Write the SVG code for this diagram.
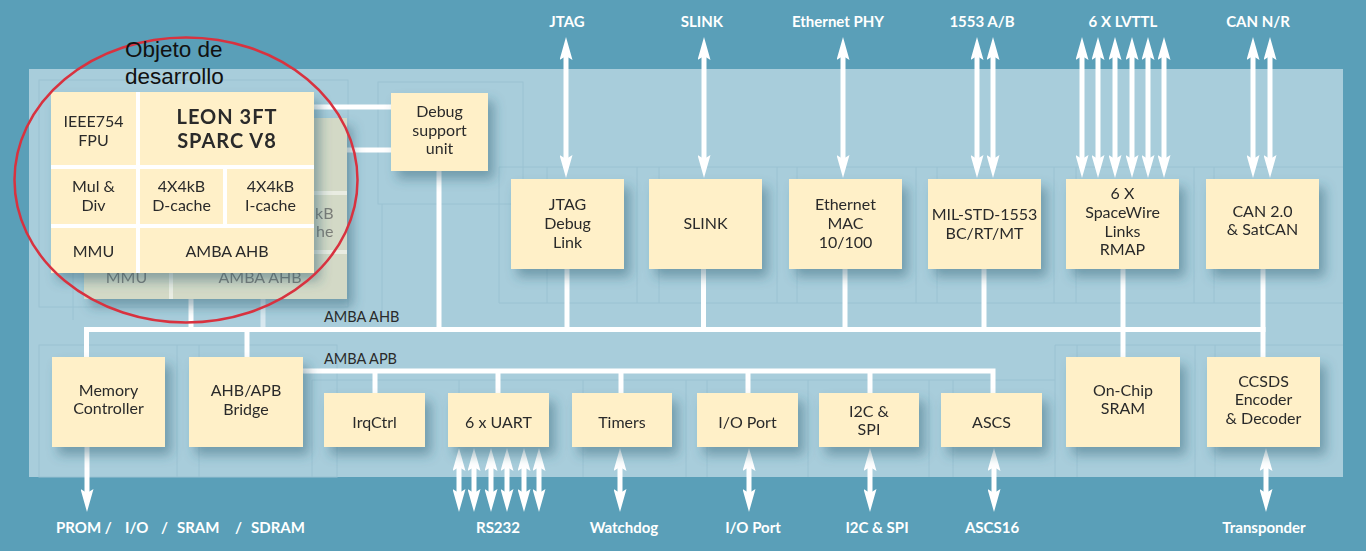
<svg xmlns="http://www.w3.org/2000/svg" width="1366" height="551" viewBox="0 0 1366 551">
<defs>
<style>
.box{fill:#fff0c8;}
.bk{fill:#d3d9c6;}
.t{font-family:Lato,"Open Sans",sans-serif;font-size:16px;fill:#2a2a2a;text-anchor:middle;}
.tb{font-family:Lato,"Open Sans",sans-serif;font-size:20px;letter-spacing:1px;font-weight:bold;fill:#2a2a2a;text-anchor:middle;}
.tg{font-family:Lato,"Open Sans",sans-serif;font-size:16px;fill:#7b7d78;text-anchor:middle;}
.lbl{font-family:Lato,"Open Sans",sans-serif;font-size:15px;font-weight:bold;fill:#ffffff;text-anchor:middle;}
.bus{font-family:Lato,"Open Sans",sans-serif;font-size:14.5px;fill:#2a2a2a;}
.w{stroke:#ffffff;stroke-width:5;fill:none;}
.a2{stroke:#ffffff;stroke-width:5;fill:none;marker-start:url(#ah);marker-end:url(#ah);}
.a1{stroke:#ffffff;stroke-width:5;fill:none;marker-end:url(#ah);}
.g{stroke:#9ac2d2;stroke-width:1;fill:none;}
</style>
<marker id="ah" viewBox="0 0 23 13" refX="4" refY="6.5" markerWidth="23" markerHeight="13" markerUnits="userSpaceOnUse" orient="auto-start-reverse">
<path d="M0,0 L23,6.5 L0,13 L4,6.5 z" fill="#ffffff"/>
</marker>
<filter id="sh" x="-20%" y="-20%" width="150%" height="160%">
<feDropShadow dx="6" dy="8" stdDeviation="6" flood-color="#2d5e72" flood-opacity="0.45"/>
</filter>
</defs>

<rect x="0" y="0" width="1366" height="551" fill="#5a9fb8"/>
<rect x="29" y="69" width="1314" height="408" fill="#a8cddb"/>

<g id="texture">
<rect class="g" x="39" y="80" width="309" height="227"/>
<line class="g" x1="73" y1="273" x2="73" y2="320"/>
<rect class="g" x="378" y="82" width="145" height="122"/>
<line class="g" x1="382" y1="204" x2="382" y2="320"/>
<line class="g" x1="499" y1="167" x2="1343" y2="167"/>
<line class="g" x1="499" y1="167" x2="499" y2="303"/>
<line class="g" x1="499" y1="303" x2="1343" y2="303"/>
<line class="g" x1="547" y1="167" x2="547" y2="303"/>
<line class="g" x1="637" y1="167" x2="637" y2="303"/>
<line class="g" x1="659" y1="167" x2="659" y2="303"/>
<line class="g" x1="777" y1="167" x2="777" y2="303"/>
<line class="g" x1="797" y1="167" x2="797" y2="303"/>
<line class="g" x1="916" y1="167" x2="916" y2="303"/>
<line class="g" x1="937" y1="167" x2="937" y2="303"/>
<line class="g" x1="1054" y1="167" x2="1054" y2="303"/>
<line class="g" x1="1076" y1="167" x2="1076" y2="303"/>
<line class="g" x1="1194" y1="167" x2="1194" y2="303"/>
<line class="g" x1="1214" y1="167" x2="1214" y2="303"/>
<rect class="g" x="39" y="345" width="298" height="132"/>
<line class="g" x1="177" y1="345" x2="177" y2="477"/>
<line class="g" x1="199" y1="345" x2="199" y2="477"/>
<line class="g" x1="312" y1="380" x2="1055" y2="380"/>
<line class="g" x1="312" y1="380" x2="312" y2="477"/>
<line class="g" x1="459" y1="380" x2="459" y2="477"/>
<line class="g" x1="583" y1="380" x2="583" y2="477"/>
<line class="g" x1="686" y1="380" x2="686" y2="477"/>
<line class="g" x1="707" y1="380" x2="707" y2="477"/>
<line class="g" x1="808" y1="380" x2="808" y2="477"/>
<line class="g" x1="929" y1="380" x2="929" y2="477"/>
<line class="g" x1="953" y1="380" x2="953" y2="477"/>
<line class="g" x1="1055" y1="345" x2="1343" y2="345"/>
<line class="g" x1="1055" y1="345" x2="1055" y2="477"/>
<line class="g" x1="1077" y1="345" x2="1077" y2="477"/>
<line class="g" x1="1195" y1="345" x2="1195" y2="477"/>
<line class="g" x1="1215" y1="345" x2="1215" y2="477"/>
</g>

<g id="connectors">
<line class="w" x1="314" y1="107" x2="392" y2="107"/>
<line class="w" x1="347" y1="150" x2="392" y2="150"/>
<line class="w" x1="439" y1="170" x2="439" y2="330"/>
<line class="w" x1="191" y1="272" x2="191" y2="330"/>
<line class="w" x1="263" y1="298" x2="263" y2="330" stroke-opacity="0.55"/>
<line class="w" x1="84" y1="329.5" x2="1265.5" y2="329.5"/>
<line class="w" x1="86.5" y1="327" x2="86.5" y2="358"/>
<line class="w" x1="247" y1="327" x2="247" y2="358"/>
<line class="w" x1="567" y1="268" x2="567" y2="330"/>
<line class="w" x1="703.5" y1="268" x2="703.5" y2="330"/>
<line class="w" x1="845" y1="268" x2="845" y2="330"/>
<line class="w" x1="984" y1="268" x2="984" y2="330"/>
<line class="w" x1="1123" y1="268" x2="1123" y2="358"/>
<line class="w" x1="1263" y1="268" x2="1263" y2="358"/>
<polyline class="w" points="302,371 993,371 993,394"/>
<line class="w" x1="375" y1="371" x2="375" y2="394"/>
<line class="w" x1="498" y1="371" x2="498" y2="394"/>
<line class="w" x1="621" y1="371" x2="621" y2="394"/>
<line class="w" x1="748" y1="371" x2="748" y2="394"/>
<line class="w" x1="870" y1="371" x2="870" y2="394"/>
<line class="a2" x1="566" y1="56" x2="566" y2="159"/>
<line class="a2" x1="704" y1="56" x2="704" y2="159"/>
<line class="a2" x1="843" y1="56" x2="843" y2="159"/>
<line class="a2" x1="977" y1="56" x2="977" y2="159"/>
<line class="a2" x1="993" y1="56" x2="993" y2="159"/>
<line class="a2" x1="1082" y1="56" x2="1082" y2="159"/>
<line class="a2" x1="1098" y1="56" x2="1098" y2="159"/>
<line class="a2" x1="1115" y1="56" x2="1115" y2="159"/>
<line class="a2" x1="1132" y1="56" x2="1132" y2="159"/>
<line class="a2" x1="1148" y1="56" x2="1148" y2="159"/>
<line class="a2" x1="1164" y1="56" x2="1164" y2="159"/>
<line class="a2" x1="1253" y1="56" x2="1253" y2="159"/>
<line class="a2" x1="1270" y1="56" x2="1270" y2="159"/>
<line class="a1" x1="87" y1="446" x2="87" y2="493"/>
<line class="a2" x1="459" y1="467" x2="459" y2="493"/>
<line class="a2" x1="474" y1="467" x2="474" y2="493"/>
<line class="a2" x1="491" y1="467" x2="491" y2="493"/>
<line class="a2" x1="507" y1="467" x2="507" y2="493"/>
<line class="a2" x1="524" y1="467" x2="524" y2="493"/>
<line class="a2" x1="539" y1="467" x2="539" y2="493"/>
<line class="a2" x1="620" y1="467" x2="620" y2="493"/>
<line class="a2" x1="749" y1="467" x2="749" y2="493"/>
<line class="a2" x1="870" y1="467" x2="870" y2="493"/>
<line class="a2" x1="994" y1="467" x2="994" y2="493"/>
<line class="a2" x1="1266" y1="467" x2="1266" y2="493"/>
</g>

<text class="bus" x="324" y="322">AMBA AHB</text>
<text class="bus" x="324" y="364">AMBA APB</text>

<g id="leon-back" filter="url(#sh)">
<rect x="84" y="118" width="263" height="181" fill="#e9ece2"/>
<rect class="bk" x="84" y="118" width="85" height="73"/>
<rect class="bk" x="173" y="118" width="174" height="73"/>
<rect class="bk" x="84" y="195" width="85" height="55"/>
<rect class="bk" x="173" y="195" width="83" height="55"/>
<rect class="bk" x="260" y="195" width="87" height="55"/>
<rect class="bk" x="84" y="254" width="85" height="45"/>
<rect class="bk" x="173" y="254" width="174" height="45"/>
<text class="tg" x="315" y="219" style="text-anchor:start">kB</text>
<text class="tg" x="316" y="237" style="text-anchor:start">he</text>
<text class="tg" x="126.5" y="283">MMU</text>
<text class="tg" x="260" y="283">AMBA AHB</text>
</g>

<g id="leon" filter="url(#sh)">
<rect x="51" y="92" width="263" height="181" fill="#ffffff"/>
<rect class="box" x="51" y="92" width="85" height="73"/>
<rect class="box" x="140" y="92" width="174" height="73"/>
<rect class="box" x="51" y="169" width="85" height="55"/>
<rect class="box" x="140" y="169" width="83" height="55"/>
<rect class="box" x="227" y="169" width="87" height="55"/>
<rect class="box" x="51" y="228" width="85" height="45"/>
<rect class="box" x="140" y="228" width="174" height="45"/>
<text class="t" x="93.5" y="127">IEEE754</text>
<text class="t" x="93.5" y="146">FPU</text>
<text class="tb" x="227" y="124">LEON 3FT</text>
<text class="tb" x="227" y="148">SPARC V8</text>
<text class="t" x="93.5" y="192">Mul &amp;</text>
<text class="t" x="93.5" y="211">Div</text>
<text class="t" x="181.5" y="192">4X4kB</text>
<text class="t" x="181.5" y="211">D-cache</text>
<text class="t" x="270.5" y="192">4X4kB</text>
<text class="t" x="270.5" y="211">I-cache</text>
<text class="t" x="93.5" y="257">MMU</text>
<text class="t" x="227" y="257">AMBA AHB</text>
</g>

<g id="debug" filter="url(#sh)"><rect class="box" x="391" y="93" width="97" height="78"/>
<text class="t" x="439.5" y="117">Debug</text><text class="t" x="439.5" y="136">support</text><text class="t" x="439.5" y="154">unit</text></g>

<g id="jtag" filter="url(#sh)"><rect class="box" x="511" y="179" width="113" height="90"/>
<text class="t" x="567.5" y="210">JTAG</text><text class="t" x="567.5" y="229">Debug</text><text class="t" x="567.5" y="248">Link</text></g>

<g id="slink" filter="url(#sh)"><rect class="box" x="649" y="179" width="113" height="90"/>
<text class="t" x="705.5" y="229">SLINK</text></g>

<g id="ethernet" filter="url(#sh)"><rect class="box" x="789" y="179" width="113" height="90"/>
<text class="t" x="845.5" y="210">Ethernet</text><text class="t" x="845.5" y="229">MAC</text><text class="t" x="845.5" y="248">10/100</text></g>

<g id="milstd" filter="url(#sh)"><rect class="box" x="928" y="179" width="113" height="90"/>
<text class="t" x="984.5" y="220">MIL-STD-1553</text><text class="t" x="984.5" y="239">BC/RT/MT</text></g>

<g id="spacewire" filter="url(#sh)"><rect class="box" x="1066" y="179" width="113" height="90"/>
<text class="t" x="1122.5" y="199">6 X</text><text class="t" x="1122.5" y="218">SpaceWire</text><text class="t" x="1122.5" y="237">Links</text><text class="t" x="1122.5" y="255">RMAP</text></g>

<g id="can" filter="url(#sh)"><rect class="box" x="1206" y="179" width="113" height="90"/>
<text class="t" x="1262.5" y="217">CAN 2.0</text><text class="t" x="1262.5" y="235">&amp; SatCAN</text></g>

<g id="memctrl" filter="url(#sh)"><rect class="box" x="52" y="357" width="113" height="90"/>
<text class="t" x="108.5" y="396">Memory</text><text class="t" x="108.5" y="414">Controller</text></g>

<g id="bridge" filter="url(#sh)"><rect class="box" x="189" y="357" width="114" height="90"/>
<text class="t" x="246" y="396">AHB/APB</text><text class="t" x="246" y="415">Bridge</text></g>

<g id="irqctrl" filter="url(#sh)"><rect class="box" x="324" y="393" width="101" height="54"/>
<text class="t" x="374.5" y="428">IrqCtrl</text></g>

<g id="uart" filter="url(#sh)"><rect class="box" x="448" y="393" width="101" height="54"/>
<text class="t" x="498.5" y="428">6 x UART</text></g>

<g id="timers" filter="url(#sh)"><rect class="box" x="572" y="393" width="100" height="54"/>
<text class="t" x="622" y="428">Timers</text></g>

<g id="ioport" filter="url(#sh)"><rect class="box" x="697" y="393" width="101" height="54"/>
<text class="t" x="747.5" y="428">I/O Port</text></g>

<g id="i2c" filter="url(#sh)"><rect class="box" x="819" y="393" width="100" height="54"/>
<text class="t" x="869" y="417">I2C &amp;</text><text class="t" x="869" y="435">SPI</text></g>

<g id="ascs" filter="url(#sh)"><rect class="box" x="941" y="393" width="101" height="54"/>
<text class="t" x="991.5" y="428">ASCS</text></g>

<g id="sram" filter="url(#sh)"><rect class="box" x="1066" y="357" width="114" height="90"/>
<text class="t" x="1123" y="396">On-Chip</text><text class="t" x="1123" y="414">SRAM</text></g>

<g id="ccsds" filter="url(#sh)"><rect class="box" x="1207" y="357" width="113" height="90"/>
<text class="t" x="1263.5" y="387">CCSDS</text><text class="t" x="1263.5" y="405">Encoder</text><text class="t" x="1263.5" y="424">&amp; Decoder</text></g>

<g id="labels">
<text class="lbl" x="567" y="27">JTAG</text>
<text class="lbl" x="702" y="27">SLINK</text>
<text class="lbl" x="838" y="27">Ethernet PHY</text>
<text class="lbl" x="982" y="27">1553 A/B</text>
<text class="lbl" x="1123" y="27">6 X LVTTL</text>
<text class="lbl" x="1258" y="27">CAN N/R</text>
<text class="lbl" style="text-anchor:start"><tspan x="56" y="533">PROM /</tspan><tspan x="125" y="533">I/O</tspan><tspan x="161" y="533">/</tspan><tspan x="177" y="533">SRAM</tspan><tspan x="235" y="533">/</tspan><tspan x="251" y="533">SDRAM</tspan></text>
<text class="lbl" x="498" y="533">RS232</text>
<text class="lbl" x="624" y="533">Watchdog</text>
<text class="lbl" x="753" y="533">I/O Port</text>
<text class="lbl" x="877" y="533">I2C &amp; SPI</text>
<text class="lbl" x="992" y="533">ASCS16</text>
<text class="lbl" x="1264" y="533">Transponder</text>
</g>

<g id="highlight">
<ellipse cx="186" cy="180" rx="171.5" ry="142.5" fill="none" stroke="#d8323f" stroke-width="2.5"/>
<text x="125" y="57" font-family="'Liberation Sans',Arial,sans-serif" font-size="22.5" fill="#111111">Objeto de</text>
<text x="125" y="84" font-family="'Liberation Sans',Arial,sans-serif" font-size="22.5" fill="#111111">desarrollo</text>
</g>
</svg>
